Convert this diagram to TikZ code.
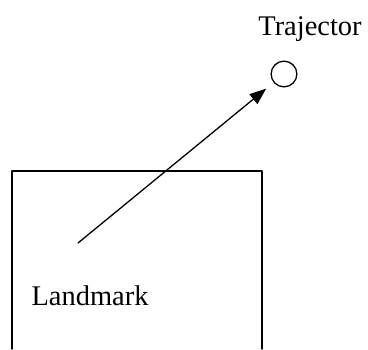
\documentclass[tikz,border=0pt]{standalone}
\usepackage{fontspec}
\setmainfont{Liberation Serif}
\usetikzlibrary{arrows.meta,positioning}
\tikzset{
  trjnode/.style={circle,draw,line width=1pt,minimum size=7mm,inner sep=0pt},
  lbl/.style={draw=none,rectangle,inner sep=0pt,font=\fontsize{22}{26}\selectfont},
  every picture/.style={line cap=round,line join=round}
}
\begin{document}
\begin{tikzpicture}[line width=1pt]
  \useasboundingbox (0,0) rectangle (10,-9.484);
  \coordinate (bl) at (0.326,-9.484);
  \coordinate (tl) at (0.326,-4.647);
  \coordinate (tr) at (7.12,-4.647);
  \coordinate (br) at (7.12,-9.484);
  \draw (bl)--(tl)--(tr)--(br);
  \node[trjnode] (traj) at (7.717,-2.011) {};
  \node[lbl] (tname) at (8.424,-0.78) {Trajector};
  \node[lbl] (lname) at (2.446,-8.05) {Landmark};
  \coordinate (src) at (2.12,-6.603);
  \draw[-{Triangle[length=4.5mm,width=3.4mm]}, shorten >=2.6mm] (src)--(traj);
\end{tikzpicture}
\end{document}
